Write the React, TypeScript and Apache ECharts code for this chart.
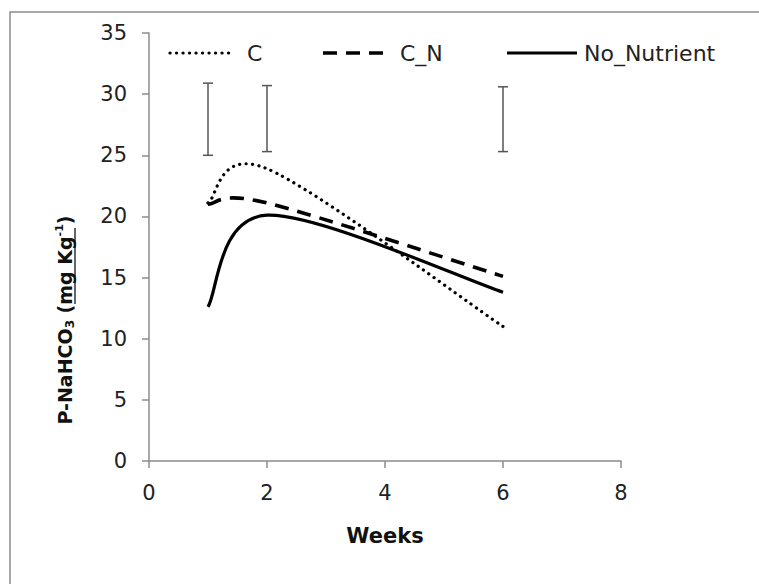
import React, { useEffect, useRef } from "react";
import * as echarts from "echarts";

const weeks = [1, 2, 6];
const seriesC = [21.1, 23.9, 11.0];
const seriesCN = [21.0, 21.1, 15.1];
const seriesNoNutrient = [12.6, 20.1, 13.8];
const errWeeks = [1, 2, 6];
const errLow = [25.0, 25.3, 25.3];
const errHigh = [30.9, 30.7, 30.6];
const seriesNames = ["C", "C_N", "No_Nutrient"];

const FONT = "'DejaVu Sans', sans-serif";

// Excel-like smoothed curve (Catmull-Rom converted to cubic Bezier), in pixel space
function smoothPath(pts: number[][]): string {
  const n = pts.length;
  let d = `M${pts[0][0]},${pts[0][1]}`;
  for (let i = 0; i < n - 1; i++) {
    const p0 = pts[Math.max(i - 1, 0)];
    const p1 = pts[i];
    const p2 = pts[i + 1];
    const p3 = pts[Math.min(i + 2, n - 1)];
    const c1x = p1[0] + (p2[0] - p0[0]) / 6;
    const c1y = p1[1] + (p2[1] - p0[1]) / 6;
    const c2x = p2[0] - (p3[0] - p1[0]) / 6;
    const c2y = p2[1] - (p3[1] - p1[1]) / 6;
    d += ` C${c1x},${c1y} ${c2x},${c2y} ${p2[0]},${p2[1]}`;
  }
  return d;
}

export default function App() {
  const ref = useRef<HTMLDivElement>(null);
  useEffect(() => {
    if (!ref.current) return;
    const chart = echarts.init(ref.current, null, { renderer: "svg" });

    const curve = (name: string, ys: number[], style: any) => ({
      type: "custom",
      name,
      data: weeks.map((w, i) => [w, ys[i]]),
      z: 3,
      renderItem: (params: any, api: any) => {
        if (params.dataIndex !== 0) return { type: "group", children: [] };
        const pts = weeks.map((w, i) => api.coord([w, ys[i]]));
        return {
          type: "path",
          shape: { pathData: smoothPath(pts) },
          style: { fill: "none", stroke: "#000", ...style },
        };
      },
    });

    const styles = [
      { lineWidth: 3.2, lineDash: [0.1, 6.4], lineCap: "round" },
      { lineWidth: 3.6, lineDash: [14, 9], lineCap: "butt" },
      { lineWidth: 3.2 },
    ];
    const legendLineX = [[170, 235], [323, 392], [507, 577]];
    const legendTextX = [247, 400, 584];
    const legendY = 53;

    const legendGraphics: any[] = [];
    seriesNames.forEach((nm, i) => {
      legendGraphics.push({
        type: "line",
        shape: { x1: legendLineX[i][0], y1: legendY, x2: legendLineX[i][1], y2: legendY },
        style: { stroke: "#000", ...styles[i] },
        silent: true,
      });
      legendGraphics.push({
        type: "text",
        x: legendTextX[i],
        y: legendY,
        style: {
          text: nm,
          fontFamily: FONT,
          fontSize: 22,
          fill: "#222",
          align: "left",
          verticalAlign: "middle",
        },
        silent: true,
      });
    });

    chart.setOption({
      animation: false,
      backgroundColor: "#ffffff",
      textStyle: { fontFamily: FONT },
      grid: { left: 149, top: 33, width: 472, height: 428, containLabel: false },
      xAxis: {
        type: "value",
        min: 0,
        max: 8,
        interval: 2,
        name: "Weeks",
        nameLocation: "middle",
        nameGap: 64,
        nameTextStyle: { fontFamily: FONT, fontSize: 21, fontWeight: "bold", color: "#111" },
        axisLine: { show: true, lineStyle: { color: "#8c8c8c", width: 1.5 } },
        axisTick: { show: true, length: 7, lineStyle: { color: "#8c8c8c", width: 1.5 } },
        axisLabel: { fontFamily: FONT, fontSize: 21, color: "#222", margin: 21 },
        splitLine: { show: false },
      },
      yAxis: {
        type: "value",
        min: 0,
        max: 35,
        interval: 5,
        axisLine: { show: true, lineStyle: { color: "#8c8c8c", width: 1.5 } },
        axisTick: { show: true, length: 7, lineStyle: { color: "#8c8c8c", width: 1.5 } },
        axisLabel: { fontFamily: FONT, fontSize: 21, color: "#222", margin: 22 },
        splitLine: { show: false },
      },
      series: [
        curve(seriesNames[0], seriesC, styles[0]),
        curve(seriesNames[1], seriesCN, styles[1]),
        curve(seriesNames[2], seriesNoNutrient, styles[2]),
        {
          type: "custom",
          name: "err",
          data: errWeeks.map((w, i) => [w, errLow[i], errHigh[i]]),
          renderItem: (params: any, api: any) => {
            const x = api.value(0);
            const lo = api.coord([x, api.value(1)]);
            const hi = api.coord([x, api.value(2)]);
            const st = { stroke: "#555", lineWidth: 1.5 };
            const half = 5;
            return {
              type: "group",
              children: [
                { type: "line", shape: { x1: lo[0], y1: lo[1], x2: hi[0], y2: hi[1] }, style: st },
                { type: "line", shape: { x1: lo[0] - half, y1: lo[1], x2: lo[0] + half, y2: lo[1] }, style: st },
                { type: "line", shape: { x1: hi[0] - half, y1: hi[1], x2: hi[0] + half, y2: hi[1] }, style: st },
              ],
            };
          },
          z: 2,
        },
      ],
      graphic: [
        {
          type: "rect",
          shape: { x: 10, y: 12, width: 800, height: 700 },
          style: { fill: "none", stroke: "#8c8c8c", lineWidth: 1.5 },
          z: -1,
          silent: true,
        },
        ...legendGraphics,
        {
          type: "text",
          x: 65,
          y: 320,
          rotation: Math.PI / 2,
          style: {
            text: "{b|P-NaHCO}{sub|3}{b| (mg Kg}{sup|-1}{b|)}",
            align: "center",
            verticalAlign: "middle",
            rich: {
              b: { fontFamily: FONT, fontSize: 19, fontWeight: "bold", fill: "#111" },
              sub: { fontFamily: FONT, fontSize: 12, fontWeight: "bold", fill: "#111", verticalAlign: "bottom", padding: [10, 0, 0, 0] },
              sup: { fontFamily: FONT, fontSize: 11, fontWeight: "bold", fill: "#111", verticalAlign: "top", padding: [0, 0, 10, 0] },
            },
          },
        },
        {
          type: "line",
          shape: { x1: 75, y1: 304, x2: 75, y2: 228 },
          style: { stroke: "#111", lineWidth: 1.3 },
          silent: true,
        },
      ],
    });
    return () => chart.dispose();
  }, []);
  return (
    <div
      ref={ref}
      style={{ position: "fixed", left: 0, top: 0, width: 759, height: 584, background: "#fff" }}
    />
  );
}
